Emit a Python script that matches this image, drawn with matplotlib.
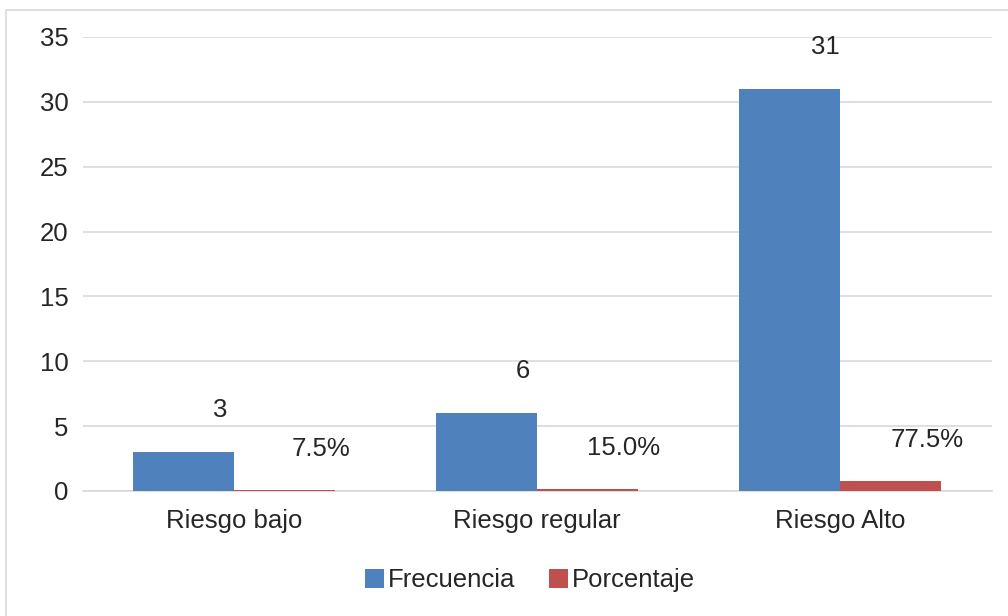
import numpy as np
import matplotlib
matplotlib.use("Agg")
import matplotlib.pyplot as plt
from matplotlib.patches import Rectangle

plt.rcParams['font.family'] = ['Liberation Sans', 'DejaVu Sans']

# datos
categorias = ["Riesgo bajo", "Riesgo regular", "Riesgo Alto"]
frecuencia = [3, 6, 31]
porcentaje = [0.075, 0.15, 0.775]
etiquetas_frec = ["3", "6", "31"]
etiquetas_pct = ["7.5%", "15.0%", "77.5%"]

azul = "#4F81BD"
rojo = "#C0504D"
texto = "#262626"
fs = 18.5

fig = plt.figure(figsize=(10.08, 6.16), dpi=100)
ax = fig.add_axes([0.082, 0.203, 0.902, 0.737])

x = np.arange(len(categorias))
w = 0.333
b1 = ax.bar(x - w / 2, frecuencia, width=w, color=azul, label="Frecuencia", zorder=3)
b2 = ax.bar(x + w / 2, porcentaje, width=w, color=rojo, label="Porcentaje", zorder=3)

# etiquetas de datos (desplazadas como en el original)
for rect, txt in zip(b1, etiquetas_frec):
    ax.annotate(txt, (rect.get_x() + rect.get_width() / 2, rect.get_height()),
                xytext=(36, 42), textcoords="offset pixels",
                ha="center", va="center", fontsize=fs, color=texto)
for rect, txt in zip(b2, etiquetas_pct):
    ax.annotate(txt, (rect.get_x() + rect.get_width() / 2, rect.get_height()),
                xytext=(36, 41), textcoords="offset pixels",
                ha="center", va="center", fontsize=fs, color=texto)

ax.set_xlim(-0.5, 2.5)
ax.set_ylim(0, 35)
ax.set_yticks(range(0, 36, 5))
ax.set_xticks(x)
ax.set_xticklabels(categorias)
ax.tick_params(axis="both", length=0, labelsize=fs, colors=texto)
ax.tick_params(axis="y", pad=10)
ax.tick_params(axis="x", pad=13)
ax.grid(axis="y", color="#d9d9d9", linewidth=1.2, zorder=0)
for s in ["top", "right", "left"]:
    ax.spines[s].set_visible(False)
ax.spines["bottom"].set_color("#d9d9d9")
ax.spines["bottom"].set_linewidth(1.2)

fig.legend(handles=[b1, b2], loc="center", bbox_to_anchor=(0.526, 0.058),
           ncol=2, frameon=False, fontsize=fs, handlelength=0.75, handleheight=0.75,
           handletextpad=0.15, columnspacing=1.3, labelcolor=texto)

# borde exterior
fig.patches.append(Rectangle((6 / 1008, -0.1), 1.2, 1 - 10 / 616 + 0.1,
                             transform=fig.transFigure, fill=False,
                             edgecolor="#d9d9d9", linewidth=1.2))

fig.savefig("out.png", dpi=100)
